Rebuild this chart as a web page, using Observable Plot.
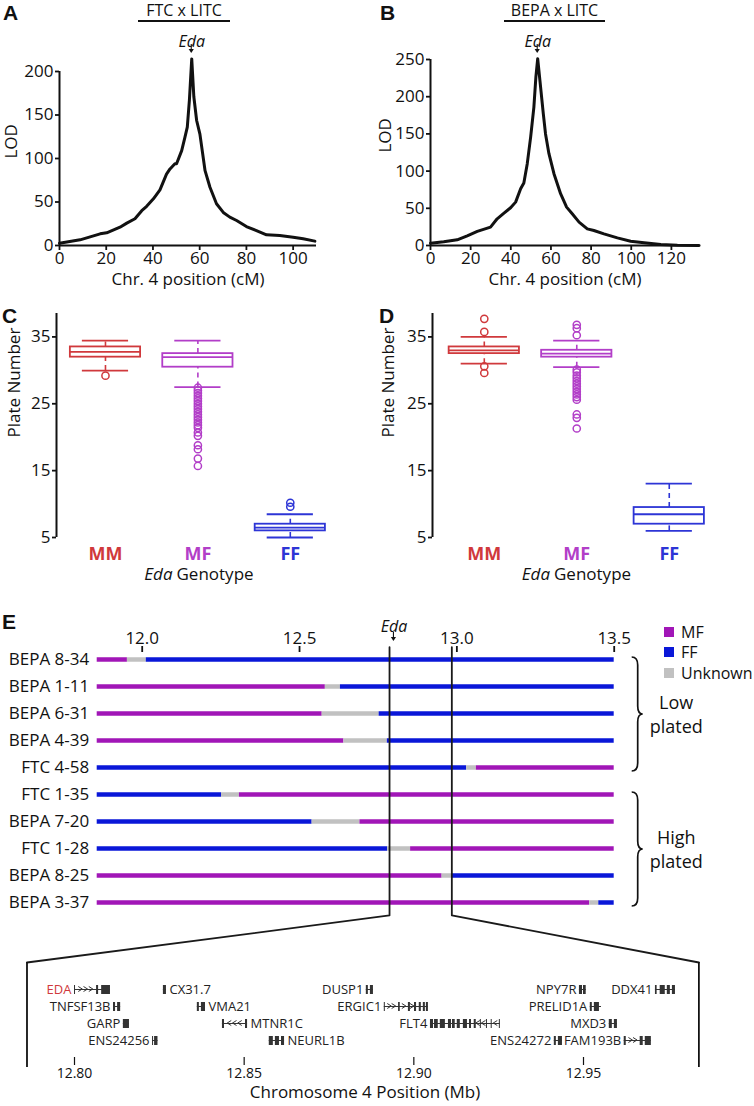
<!DOCTYPE html>
<html><head><meta charset="utf-8">
<script src="https://cdn.jsdelivr.net/npm/d3@7"></script>
<script src="https://cdn.jsdelivr.net/npm/@observablehq/plot@0.6"></script>
<style>
body{margin:0;background:#fff;}
#fig{position:relative;width:754px;height:1106px;font-family:"Open Sans","Noto Sans",sans-serif;color:#111;overflow:hidden;background:#fff;}
.abs{position:absolute;}
.letter{font-family:"Liberation Sans",Arial,sans-serif;font-weight:bold;font-size:21px;line-height:1;}
.title{font-size:16px;line-height:1;border-bottom:2px solid #111;padding-bottom:2px;text-align:center;}
.leg{font-size:16px;line-height:1;white-space:nowrap;}
.sq{position:absolute;width:10px;height:10px;}
</style></head>
<body><div id="fig">
<div class="abs letter" style="left:3px;top:2px">A</div>
<div class="abs letter" style="left:380px;top:2px">B</div>
<div class="abs letter" style="left:2px;top:305px">C</div>
<div class="abs letter" style="left:379px;top:305px">D</div>
<div class="abs letter" style="left:2px;top:611px">E</div>
<div class="abs title" style="left:138px;top:2px;width:92px">FTC x LITC</div>
<div class="abs title" style="left:504px;top:2px;width:101px">BEPA x LITC</div>
</div>
<script>
// ---------------- Panel A / B : LOD profiles ----------------
const posA = [0, 8.8, 17.4, 20.2, 25.9, 28.8, 32.3, 35.2, 37.3, 40.2, 43.0, 45.8, 47.3, 49.4, 50.1, 52.3, 53.7, 54.7, 55.6, 56.6, 57.5, 58.7, 60.1, 62.3, 64.4, 67.2, 70.1, 72.9, 75.8, 80.0, 84.3, 88.6, 94.3, 100.0, 104.3, 109.3];
const lodA = [2.7, 6.5, 13.4, 14.6, 21, 25.7, 30.7, 40, 45, 53.6, 64, 82, 88, 94, 94, 109, 124.5, 136, 167, 214.5, 171, 143.7, 128, 86, 67, 48, 38, 32.6, 28.7, 21.8, 17.2, 12.3, 11.5, 9.6, 7.7, 5];
const posB = [0, 6.6, 13.3, 18.3, 23.3, 29.9, 33.2, 36.6, 39.9, 42.4, 44.9, 46.5, 48.2, 49.9, 51.5, 52.5, 53.4, 54.5, 56.2, 57.3, 59.0, 61.5, 64.8, 67.8, 70.6, 74.0, 78.1, 81.4, 86.4, 93.1, 99.7, 106.4, 114.7, 123.0, 133.8];
const lodB = [3.1, 4.9, 7.6, 13, 18.9, 24.7, 35.9, 43.5, 50.7, 58.3, 76.3, 84, 110, 146, 186, 226.7, 251, 222, 177, 150, 123.4, 96.5, 69.6, 51.6, 42.6, 31.4, 22.4, 20.2, 15.7, 10.3, 5.8, 3.6, 1.3, 0.4, 0];
const ticksAx = [0, 20, 40, 60, 80, 100];
const ticksAy = [0, 50, 100, 150, 200];
const ticksBx = [0, 20, 40, 60, 80, 100, 120];
const ticksBy = [0, 50, 100, 150, 200, 250];

// ---------------- Panel C / D : plate number box plots ----------------
const genotypes = ["MM", "MF", "FF"];
const cLow  = [29.97, 27.5, 5.0];
const cQ1   = [31.97, 30.47, 5.99];
const cMed  = [32.76, 31.97, 6.49];
const cQ3   = [33.5, 32.5, 6.99];
const cHigh = [34.45, 34.45, 8.48];
const cOut  = [[29.2],
  [27.4, 27.0, 26.6, 26.2, 25.8, 25.4, 25.0, 24.6, 24.2, 23.8, 23.4, 23.0, 22.6, 22.2, 21.8, 21.4, 20.7, 20.2, 18.8, 18.2, 16.8, 15.7],
  [10.2, 9.6]];
const dLow  = [31.0, 30.47, 5.99];
const dQ1   = [32.5, 31.97, 6.99];
const dMed  = [33.0, 32.5, 8.48];
const dQ3   = [33.5, 33.0, 9.48];
const dHigh = [35.0, 34.45, 13.06];
const dOut  = [[37.7, 35.75, 30.6, 29.6],
  [36.8, 36.3, 35.25, 30.1, 29.7, 29.2, 28.8, 28.4, 28.0, 27.6, 27.2, 26.8, 26.4, 26.0, 25.6, 23.4, 22.9, 21.3],
  []];
const plateTicks = [5, 15, 25, 35];

// ---------------- Panel E : recombinant haplotypes ----------------
const rows = ["BEPA 8-34", "BEPA 1-11", "BEPA 6-31", "BEPA 4-39", "FTC 4-58", "FTC 1-35", "BEPA 7-20", "FTC 1-28", "BEPA 8-25", "BEPA 3-37"];
const rowBreaks = [
  [11.857, 11.953, 12.013, 13.5],
  [11.857, 12.582, 12.630, 13.5],
  [11.857, 12.572, 12.753, 13.5],
  [11.857, 12.641, 12.779, 13.5],
  [11.857, 13.031, 13.062, 13.5],
  [11.857, 12.252, 12.309, 13.5],
  [11.857, 12.540, 12.692, 13.5],
  [11.857, 12.780, 12.853, 13.5],
  [11.857, 12.953, 12.985, 13.5],
  [11.857, 13.422, 13.451, 13.5]
];
const rowStates = [
  ["MF", "Unknown", "FF"], ["MF", "Unknown", "FF"], ["MF", "Unknown", "FF"], ["MF", "Unknown", "FF"], ["FF", "Unknown", "MF"],
  ["FF", "Unknown", "MF"], ["FF", "Unknown", "MF"], ["FF", "Unknown", "MF"], ["MF", "Unknown", "FF"], ["MF", "Unknown", "FF"]
];
const eTicks = [12.0, 12.5, 13.0, 13.5];
const legendStates = ["MF", "FF", "Unknown"];
const groupLabels = ["Low\nplated", "High\nplated"];
const groupFirst = [0, 5];
const groupLast = [4, 9];
const zoomRange = [12.786, 12.984];

// ---------------- Gene track ----------------
const geneNames = ["EDA", "TNFSF13B", "GARP", "ENS24256", "CX31.7", "VMA21", "MTNR1C", "NEURL1B", "DUSP1", "ERGIC1", "FLT4", "ENS24272", "NPY7R", "PRELID1A", "MXD3", "FAM193B", "DDX41"];
const geneRow   = [1, 2, 3, 4, 1, 2, 3, 4, 1, 2, 3, 4, 1, 2, 3, 4, 1];
const geneStart = [12.8000, 12.8115, 12.8144, 12.8230, 12.8262, 12.8362, 12.8436, 12.8574, 12.8860, 12.8913, 12.9049, 12.9414, 12.9488, 12.9520, 12.9576, 12.9620, 12.9712];
const geneEnd   = [12.8106, 12.8136, 12.8162, 12.8246, 12.8271, 12.8386, 12.8510, 12.8619, 12.8881, 12.9043, 12.9255, 12.9438, 12.9508, 12.9553, 12.9600, 12.9700, 12.9771];
const labelSide = ["L", "L", "L", "L", "R", "R", "R", "R", "L", "L", "L", "L", "L", "L", "L", "L", "L"];
const geneStrand = [1, 1, -1, 1, 1, -1, -1, -1, -1, 1, -1, -1, 1, -1, -1, 1, -1];
const geneExons = [
  [[12.8000, 12.8003], [12.8065, 12.8071], [12.8080, 12.8106]],
  [[12.8115, 12.8121], [12.8127, 12.8136]],
  [[12.8144, 12.8162]],
  [[12.8230, 12.8233], [12.8236, 12.8246]],
  [[12.8262, 12.8271]],
  [[12.8362, 12.8368], [12.8374, 12.8386]],
  [[12.8436, 12.8442], [12.8504, 12.8510]],
  [[12.8574, 12.8586], [12.8592, 12.8604], [12.8610, 12.8619]],
  [[12.8860, 12.8866], [12.8872, 12.8881]],
  [[12.8913, 12.8916], [12.8955, 12.8960], [12.8984, 12.8990], [12.9002, 12.9008], [12.9016, 12.9022], [12.9028, 12.9034], [12.9037, 12.9043]],
  [[12.9049, 12.9058], [12.9061, 12.9072], [12.9078, 12.9093], [12.9102, 12.9111], [12.9114, 12.9122], [12.9128, 12.9137], [12.9146, 12.9158], [12.9164, 12.9170], [12.9178, 12.9184], [12.9196, 12.9199], [12.9214, 12.9217], [12.9228, 12.9231], [12.9252, 12.9255]],
  [[12.9414, 12.9420], [12.9426, 12.9438]],
  [[12.9488, 12.9497], [12.9500, 12.9508]],
  [[12.9520, 12.9526], [12.9532, 12.9547]],
  [[12.9576, 12.9585], [12.9591, 12.9600]],
  [[12.9620, 12.9626], [12.9667, 12.9676], [12.9682, 12.9700]],
  [[12.9712, 12.9717], [12.9726, 12.9741], [12.9747, 12.9756], [12.9762, 12.9771]]
];
const geneTicks = [12.80, 12.85, 12.90, 12.95];

// ---------------- styling ----------------
const font = "'Open Sans','Noto Sans',sans-serif";
const ink = "#111";
const genoColor = ["#d0393c", "#b23ec8", "#2d35d6"];
const stateColor = {MF: "#a116b7", FF: "#0a17d8", Unknown: "#c1c1c1"};
const baseStyle = (size) => ({background: "transparent", overflow: "visible", fontFamily: font, fontSize: size + "px", color: ink});

const fig = document.getElementById("fig");
function place(node, left, top, tickSize) {
  d3.select(node).selectAll('g[aria-label$="tick label"]').attr("font-size", tickSize).style("font-size", tickSize + "px");
  const d = document.createElement("div");
  d.className = "abs";
  d.style.left = left + "px";
  d.style.top = top + "px";
  d.appendChild(node);
  fig.appendChild(d);
}

// small downward annotation arrow, x in data units, y in pixels of the plot
const downArrow = (xv, yTop, yTip) => (index, {x}) => {
  const X = x(xv);
  const g = d3.create("svg:g");
  g.append("line").attr("x1", X).attr("x2", X).attr("y1", yTop).attr("y2", yTip - 3)
    .attr("stroke", ink).attr("stroke-width", 1.1);
  g.append("path").attr("d", `M${X - 2.6},${yTip - 4}L${X + 2.6},${yTip - 4}L${X},${yTip}Z`).attr("fill", ink);
  return g.node();
};

function lodPanel(pos, lod, xDomain, yDomain, xTicks, yTicks, marginLeft, marginRight, marginTop, labelDx) {
  const data = pos.map((p, i) => ({p, l: lod[i]}));
  const peak = pos[d3.maxIndex(lod)];
  return Plot.plot({
    width: 377, height: 300, marginLeft, marginRight, marginTop, marginBottom: 55,
    x: {domain: xDomain}, y: {domain: yDomain},
    style: baseStyle(17),
    marks: [
      Plot.axisX({ticks: xTicks, tickSize: 5, tickPadding: 1, strokeWidth: 1.8, label: null}),
      Plot.axisY({ticks: yTicks, tickSize: 4, tickPadding: 2, strokeWidth: 1.8, label: null}),
      Plot.ruleX([0], {stroke: ink, strokeWidth: 2}),
      Plot.ruleY([0], {stroke: ink, strokeWidth: 2}),
      Plot.line(data, {x: "p", y: "l", stroke: ink, strokeWidth: 3, strokeLinejoin: "round"}),
      Plot.text(["Eda"], {x: () => peak, frameAnchor: "top", dy: 35 - marginTop, text: d => d, fontStyle: "italic", fontSize: 16}),
      downArrow(peak, 44, 53),
      Plot.text(["LOD"], {frameAnchor: "left", rotate: -90, dx: labelDx, text: d => d}),
      Plot.text(["Chr. 4 position (cM)"], {frameAnchor: "bottom", dy: 39, text: d => d})
    ]
  });
}

place(lodPanel(posA, lodA, [0, 110], [0, 200], ticksAx, ticksAy, 59, 61, 71, -48), 0, 0, 17);
place(lodPanel(posB, lodB, [0, 134], [0, 250], ticksBx, ticksBy, 53, 55, 59, -45), 377, 0, 17);

function boxPanel(lo, q1, med, q3, hi, outliers, xDomain, marginLeft, marginRight, plateDx) {
  const boxes = genotypes.map((g, i) => ({g, i: i + 1, lo: lo[i], q1: q1[i], med: med[i], q3: q3[i], hi: hi[i], c: genoColor[i]}));
  const outs = outliers.flatMap((arr, i) => arr.map(v => ({i: i + 1, v, c: genoColor[i]})));
  const bw = 0.38, cw = 0.25;
  return Plot.plot({
    width: 377, height: 310, marginLeft, marginRight, marginTop: 33, marginBottom: 53,
    x: {domain: xDomain, axis: null}, y: {domain: [5, 38.5]},
    color: {type: "identity"},
    style: baseStyle(17),
    marks: [
      Plot.axisY({ticks: plateTicks, tickSize: 4, tickPadding: 2, strokeWidth: 1.8, label: null}),
      Plot.ruleX([xDomain[0]], {stroke: ink, strokeWidth: 2}),
      Plot.ruleX(boxes, {x: "i", y1: "q3", y2: "hi", stroke: "c", strokeWidth: 1.6, strokeDasharray: "5,4"}),
      Plot.ruleX(boxes, {x: "i", y1: "lo", y2: "q1", stroke: "c", strokeWidth: 1.6, strokeDasharray: "5,4"}),
      Plot.ruleY(boxes, {y: "hi", x1: d => d.i - cw, x2: d => d.i + cw, stroke: "c", strokeWidth: 1.8}),
      Plot.ruleY(boxes, {y: "lo", x1: d => d.i - cw, x2: d => d.i + cw, stroke: "c", strokeWidth: 1.8}),
      Plot.rect(boxes, {x1: d => d.i - bw, x2: d => d.i + bw, y1: "q1", y2: "q3", stroke: "c", fill: "white", strokeWidth: 1.8}),
      Plot.ruleY(boxes, {y: "med", x1: d => d.i - bw, x2: d => d.i + bw, stroke: "c", strokeWidth: 1.8}),
      Plot.dot(outs, {x: "i", y: "v", r: 3.6, stroke: "c", strokeWidth: 1.5, fill: "none"}),
      Plot.text(boxes, {x: "i", y: () => 5, dy: 17, text: "g", fill: "c", fontWeight: "bold", fontSize: 18}),
      Plot.text(["Plate Number"], {frameAnchor: "left", rotate: -90, dx: plateDx, dy: 12, text: d => d}),
      Plot.text(["Eda"], {frameAnchor: "bottom", dy: 42, dx: -24, textAnchor: "end", fontStyle: "italic", text: d => d}),
      Plot.text(["Genotype"], {frameAnchor: "bottom", dy: 42, dx: -20, textAnchor: "start", text: d => d})
    ]
  });
}

place(boxPanel(cLow, cQ1, cMed, cQ3, cHigh, cOut, [0.47, 3.5], 56, 41, -42), 0, 280, 17);
place(boxPanel(dLow, dQ1, dMed, dQ3, dHigh, dOut, [0.44, 3.5], 55, 39, -44), 377, 280, 17);

// ---------------- gene track plot ----------------
const geneTop = 905, eTopPx = 580;
const boxTop = -0.588, boxBottom = 5.59;
const geneData = geneNames.map((n, i) => ({n, row: geneRow[i], s: geneStart[i], e: geneEnd[i], side: labelSide[i], strand: geneStrand[i], c: n === "EDA" ? "#d0393c" : "#222"}));
const exonData = geneExons.flatMap((ex, i) => ex.map(([s, e]) => ({row: geneRow[i], s, e})));
// strand chevrons placed in the introns (gaps between consecutive exons)
const intronData = geneExons.flatMap((ex, i) => ex.slice(1).map(([s], j) => ({row: geneRow[i], a: ex[j][1], b: s, strand: geneStrand[i]})))
  .filter(d => d.b - d.a > 0.0012);
const chevrons = (index, {x, y}) => {
  const g = d3.create("svg:g").attr("fill", "none").attr("stroke", "#333").attr("stroke-width", 1);
  for (const d of intronData) {
    const xa = x(d.a), xb = x(d.b), Y = y(d.row);
    const n = Math.max(1, Math.floor((xb - xa) / 6));
    for (let k = 1; k <= n; k++) {
      const cx = xa + (xb - xa) * k / (n + 1);
      const s = d.strand * 2;
      g.append("path").attr("d", `M${cx - s},${Y - 2.5}L${cx + s},${Y}L${cx - s},${Y + 2.5}`);
    }
  }
  return g.node();
};
const genePlot = Plot.plot({
  width: 754, height: 201, marginLeft: 74, marginRight: 171, marginTop: 67, marginBottom: 49,
  x: {domain: [12.80, 12.95]}, y: {domain: [0, 5], reverse: true, axis: null},
  color: {type: "identity"},
  style: baseStyle(14),
  marks: [
    Plot.ruleX(zoomRange, {y1: boxTop, y2: boxBottom, stroke: ink, strokeWidth: 1.8}),
    Plot.axisX({ticks: geneTicks, tickFormat: d => d.toFixed(2), tickSize: 8, tickPadding: 3, strokeWidth: 1.2, label: null}),
    Plot.ruleY(geneData, {y: "row", x1: "s", x2: "e", stroke: "#333", strokeWidth: 1}),
    chevrons,
    Plot.ruleY(exonData, {y: "row", x1: "s", x2: "e", stroke: "#333", strokeWidth: 9}),
    Plot.text(geneData.filter(d => d.side === "L"), {x: "s", y: "row", text: "n", fill: "c", textAnchor: "end", dx: -3, fontSize: 13}),
    Plot.text(geneData.filter(d => d.side === "R"), {x: "e", y: "row", text: "n", fill: "c", textAnchor: "start", dx: 3, fontSize: 13}),
    Plot.text(["Chromosome 4 Position (Mb)"], {frameAnchor: "bottom", dx: 36, dy: 40, fontSize: 17, text: d => d})
  ]
});

// ---------------- panel E plot ----------------
const eXdom = [12, 13.5], eLeft = 141.7, eRight = 140.3, eMT = 71, eMB = 28, eH = 350;
const eYdom = [-0.296, 9];
const eXs = d3.scaleLinear().domain(eXdom).range([eLeft, 754 - eRight]);
const eYs = d3.scaleLinear().domain(eYdom).range([eMT, eH - eMB]);
const gxs = genePlot.scale("x"), gys = genePlot.scale("y");
const funnel = zoomRange.flatMap((v, k) => [
  {k, x: v, y: -0.456},
  {k, x: v, y: 9.48},
  {k, x: eXs.invert(gxs.apply(v)), y: eYs.invert(gys.apply(boxTop) + geneTop - eTopPx)}
]);
const segs = rows.flatMap((r, i) => rowStates[i].map((s, j) => ({row: i, c: stateColor[s], x1: rowBreaks[i][j], x2: rowBreaks[i][j + 1]})));
const barEnd = d3.max(rowBreaks, b => b[b.length - 1]);
const edaPos = geneStart[geneNames.indexOf("EDA")];

const braces = (index, scales) => {
  const {x, y} = scales;
  const g = d3.create("svg:g").attr("fill", "none").attr("stroke", ink).attr("stroke-width", 1.7);
  const x0 = x(barEnd) + 18, w = 6, r = 8, tip = 5;
  groupFirst.forEach((f, k) => {
    const yt = y(f) - 2, yb = y(groupLast[k]) + 4, ym = (yt + yb) / 2;
    g.append("path").attr("d",
      `M${x0},${yt}Q${x0 + w},${yt} ${x0 + w},${yt + r}L${x0 + w},${ym - r}Q${x0 + w},${ym} ${x0 + w + tip},${ym}` +
      `Q${x0 + w},${ym} ${x0 + w},${ym + r}L${x0 + w},${yb - r}Q${x0 + w},${yb} ${x0},${yb}`);
  });
  return g.node();
};

const ePlot = Plot.plot({
  width: 754, height: eH, marginLeft: eLeft, marginRight: eRight, marginTop: eMT, marginBottom: eMB,
  x: {domain: eXdom}, y: {domain: eYdom, reverse: true, axis: null},
  color: {type: "identity"},
  style: baseStyle(17),
  marks: [
    Plot.axisX({anchor: "top", ticks: eTicks, tickFormat: d => d.toFixed(1), tickSize: 6, tickPadding: 2, strokeWidth: 1.8, label: null}),
    Plot.ruleY(segs, {y: "row", x1: "x1", x2: "x2", stroke: "c", strokeWidth: 4.5}),
    Plot.text(rows, {x: (d, i) => rowBreaks[i][0], y: (d, i) => i, text: d => d, textAnchor: "end", dx: -8}),
    Plot.line(funnel, {x: "x", y: "y", z: "k", stroke: "#1a1a1a", strokeWidth: 1.8}),
    Plot.text(["Eda"], {x: () => edaPos, y: () => -1.2, text: d => d, fontStyle: "italic", fontSize: 16}),
    downArrow(edaPos, 52, 61),
    braces,
    Plot.text(groupLabels, {x: () => barEnd, y: (d, i) => (groupFirst[i] + groupLast[i]) / 2, text: d => d, dx: 62, lineHeight: 1.35, fontSize: 18})
  ]
});

place(ePlot, 0, eTopPx, 17);
place(genePlot, 0, geneTop, 14);

// legend
const legTops = [624, 644, 665];
legendStates.forEach((s, i) => {
  const sq = document.createElement("div");
  sq.className = "sq";
  sq.style.left = "664px"; sq.style.top = (legTops[i] + 3) + "px"; sq.style.background = stateColor[s];
  fig.appendChild(sq);
  const t = document.createElement("div");
  t.className = "abs leg";
  t.style.left = "681px"; t.style.top = legTops[i] + "px";
  t.textContent = s;
  fig.appendChild(t);
});
</script>
</body></html>
